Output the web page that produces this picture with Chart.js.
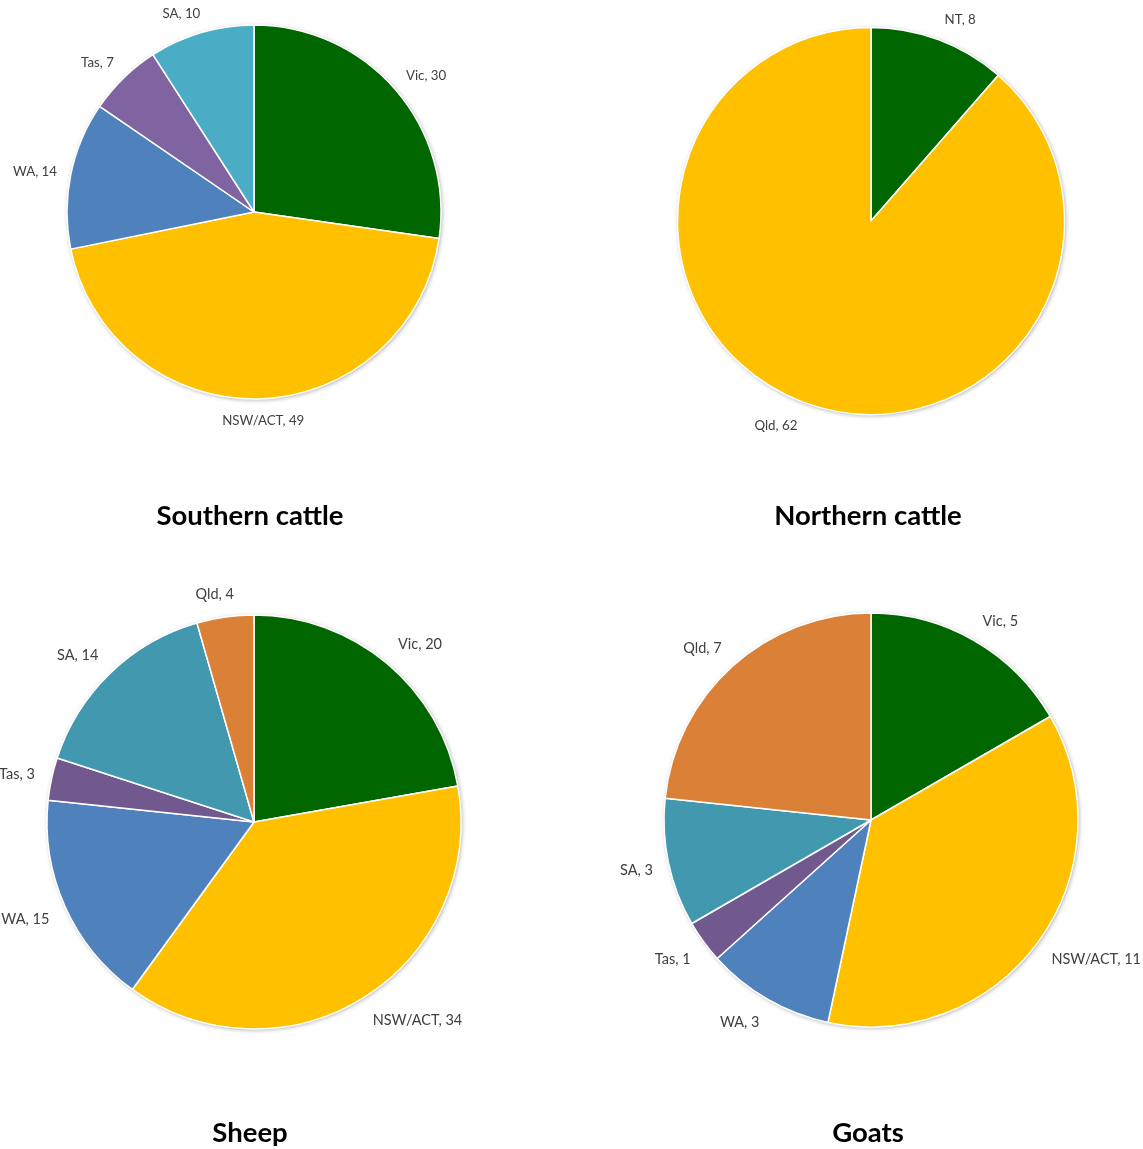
<!DOCTYPE html>
<html>
<head>
<meta charset="utf-8">
<script src="https://cdn.jsdelivr.net/npm/chart.js@4.4.1/dist/chart.umd.min.js"></script>
<style>
  body { margin: 0; background: #fff; width: 1143px; height: 1149px; position: relative; overflow: hidden; }
  canvas { position: absolute; }
  .title { position: absolute; width: 400px; text-align: center; font-family: Lato, sans-serif; font-weight: bold; font-size: 27.5px; line-height: 33px; color: #000; }
</style>
</head>
<body>

<canvas id="southernChart" width="572" height="575" style="left:0px;top:0px"></canvas>
<canvas id="northernChart" width="572" height="575" style="left:571px;top:0px"></canvas>
<canvas id="sheepChart" width="572" height="575" style="left:0px;top:574px"></canvas>
<canvas id="goatsChart" width="572" height="575" style="left:571px;top:574px"></canvas>

<div class="title" style="left:50px;top:498px">Southern cattle</div>
<div class="title" style="left:668px;top:498px">Northern cattle</div>
<div class="title" style="left:50px;top:1115px">Sheep</div>
<div class="title" style="left:668px;top:1115px">Goats</div>

<script>

const southernLabels = [ 'Vic', 'NSW/ACT', 'WA', 'Tas', 'SA' ];
const southernValues = [ 30, 49, 14, 7, 10 ];

const northernLabels = [ 'NT', 'Qld' ];
const northernValues = [ 8, 62 ];

const sheepLabels = [ 'Vic', 'NSW/ACT', 'WA', 'Tas', 'SA', 'Qld' ];
const sheepValues = [ 20, 34, 15, 3, 14, 4 ];

const goatsLabels = [ 'Vic', 'NSW/ACT', 'WA', 'Tas', 'SA', 'Qld' ];
const goatsValues = [ 5, 11, 3, 1, 3, 7 ];

const cattleColours = [ '#006600', '#FFC000', '#4F81BD', '#8064A2', '#4BACC6' ];
const smallStockColours = [ '#006600', '#FFC000', '#4F81BD', '#71588F', '#4198AF', '#DA8137' ];

const BORDER = 1.5;

// soft grey shadow round the whole pie, drawn from the first arc's geometry
const pieShadow = {
    id: 'pieShadow',
    beforeDatasetsDraw( chart ) {
        let arc = chart.getDatasetMeta( 0 ).data[ 0 ];
        if ( !arc ) return;
        let ctx = chart.ctx;
        ctx.save();
        ctx.beginPath();
        ctx.arc( arc.x, arc.y, arc.outerRadius, 0, Math.PI * 2 );
        ctx.fillStyle = '#ffffff';
        ctx.shadowColor = 'rgba(0, 0, 0, 0.35)';
        ctx.shadowBlur = 4;
        ctx.shadowOffsetX = 1;
        ctx.shadowOffsetY = 1;
        ctx.fill();
        ctx.restore();
    }
};

function clamp( v ) {
    return Math.max( -1, Math.min( 1, v ) );
}

// "Name, value" labels just outside each slice: the box corner nearest the
// pie sits on the slice's middle ray, eased towards centring near the axes
const outsideLabels = {
    id: 'outsideLabels',
    afterDatasetsDraw( chart, args, opts ) {
        let ctx = chart.ctx;
        let meta = chart.getDatasetMeta( 0 );
        let values = chart.data.datasets[ 0 ].data;
        ctx.save();
        ctx.font = opts.size + 'px Lato, sans-serif';
        ctx.fillStyle = '#404040';
        ctx.textAlign = 'center';
        ctx.textBaseline = 'middle';
        meta.data.forEach( function( arc, i ) {
            let p = arc.getProps( [ 'x', 'y', 'startAngle', 'endAngle', 'outerRadius' ] );
            let mid = ( p.startAngle + p.endAngle ) / 2;
            let text = chart.data.labels[ i ] + ', ' + values[ i ];
            let halfW = ctx.measureText( text ).width / 2;
            let halfH = opts.size * 0.5;
            let d = p.outerRadius + opts.gap;
            let x = p.x + Math.cos( mid ) * d + clamp( Math.cos( mid ) * 3 ) * halfW;
            let y = p.y + Math.sin( mid ) * d + clamp( Math.sin( mid ) * 1.5 ) * halfH + 1.5;
            ctx.fillText( text, x, y );
        } );
        ctx.restore();
    }
};

function addPie( canvasId, labels, values, colours, cx, cy, r, fontSize, gap ) {

    let canvas = document.getElementById( canvasId );
    let size = 2 * r + BORDER;
    let ctx = canvas.getContext( '2d' );

    return new Chart( ctx, {
        type: 'pie',
        data: {
            labels: labels,
            datasets: [{
                data: values,
                backgroundColor: colours.slice( 0, values.length ),
                borderColor: '#ffffff',
                borderWidth: BORDER,
                hoverOffset: 0,
            }],
        },
        options: {
            responsive: false,
            maintainAspectRatio: false,
            animation: false,
            layout: {
                padding: {
                    left: cx - size / 2,
                    top: cy - size / 2,
                    right: canvas.width - cx - size / 2,
                    bottom: canvas.height - cy - size / 2,
                },
            },
            plugins: {
                legend: { display: false },
                tooltip: { enabled: false },
                outsideLabels: { size: fontSize, gap: gap },
            },
        },
        plugins: [ pieShadow, outsideLabels ],
    } );

}

addPie( 'southernChart', southernLabels, southernValues, cattleColours, 254, 212, 187, 13.3, 14 );
addPie( 'northernChart', northernLabels, northernValues, cattleColours, 300, 221, 193.5, 13.3, 16 );
addPie( 'sheepChart', sheepLabels, sheepValues, smallStockColours, 254, 248, 207, 14.5, 17 );
addPie( 'goatsChart', goatsLabels, goatsValues, smallStockColours, 300, 246, 207, 14.5, 16 );

</script>
</body>
</html>
